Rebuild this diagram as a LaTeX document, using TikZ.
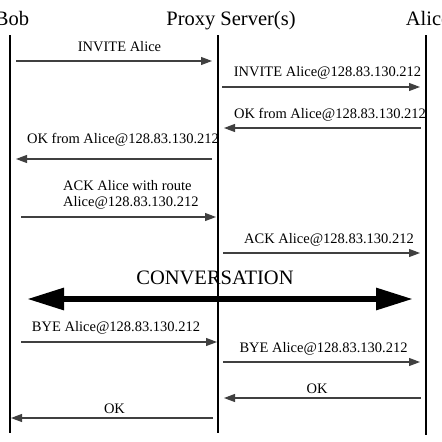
\documentclass[tikz,border=0pt]{standalone}
\usepackage{fontspec}
\setmainfont{Liberation Serif}
\usetikzlibrary{arrows.meta}
\begin{document}
\begin{tikzpicture}[x=1pt,y=-1pt,
  title/.style={font=\fontsize{20.5}{24}\selectfont, anchor=base, inner sep=0pt},
  lbl/.style={font=\fontsize{14.5}{16}\selectfont, anchor=base, inner sep=0pt},
  life/.style={line width=1.8pt, black},
  msg/.style={line width=1.1pt, black!75, -{Triangle[length=11pt,width=8pt]}},
  conv/.style={line width=6pt, black, {Triangle[length=37pt,width=21pt]}-{Triangle[length=37pt,width=21pt]}}]
\useasboundingbox (0,0) rectangle (442,442);
% titles
\node[title] (tbob) at (12,25) {Bob};
\node[title] (tproxy) at (231,25) {Proxy Server(s)};
\node[title] (talice) at (428,25) {Alice};
% lifelines
\coordinate (bobT) at (10,35); \coordinate (bobB) at (10,433);
\coordinate (prT) at (218,35); \coordinate (prB) at (218,433);
\coordinate (alT) at (426,35); \coordinate (alB) at (426,435);
\draw[life] (bobT) -- (bobB);
\draw[life] (prT) -- (prB);
\draw[life] (alT) -- (alB);
% message 1
\coordinate (m1a) at (16,61); \coordinate (m1b) at (212,61);
\draw[msg] (m1a) -- (m1b);
\node[lbl] (l1) at (119.5,51) {INVITE Alice};
% message 2
\coordinate (m2a) at (222,87); \coordinate (m2b) at (420,87);
\draw[msg] (m2a) -- (m2b);
\node[lbl] (l2) at (327.5,76) {INVITE Alice@128.83.130.212};
% message 3
\coordinate (m3a) at (421,128); \coordinate (m3b) at (224,128);
\draw[msg] (m3a) -- (m3b);
\node[lbl] (l3) at (330,118) {OK from Alice@128.83.130.212};
% message 4
\coordinate (m4a) at (212,159); \coordinate (m4b) at (16,159);
\draw[msg] (m4a) -- (m4b);
\node[lbl] (l4) at (123,143) {OK from Alice@128.83.130.212};
% message 5
\coordinate (m5a) at (21,217); \coordinate (m5b) at (216,217);
\draw[msg] (m5a) -- (m5b);
\node[lbl, anchor=base west] (l5a) at (63,190) {ACK Alice with route};
\node[lbl, anchor=base west] (l5b) at (63,206) {Alice@128.83.130.212};
% message 6
\coordinate (m6a) at (223,253); \coordinate (m6b) at (420,253);
\draw[msg] (m6a) -- (m6b);
\node[lbl] (l6) at (329,243) {ACK Alice@128.83.130.212};
% conversation
\coordinate (cva) at (27,299); \coordinate (cvb) at (413,299);
\draw[conv] (cva) -- (cvb);
\node[title] (lconv) at (215,284) {CONVERSATION};
% message 7
\coordinate (m7a) at (21,342); \coordinate (m7b) at (217,342);
\draw[msg] (m7a) -- (m7b);
\node[lbl] (l7) at (116,331) {BYE Alice@128.83.130.212};
% message 8
\coordinate (m8a) at (223,362); \coordinate (m8b) at (420,362);
\draw[msg] (m8a) -- (m8b);
\node[lbl] (l8) at (323.5,352) {BYE Alice@128.83.130.212};
% message 9
\coordinate (m9a) at (421,398); \coordinate (m9b) at (224,398);
\draw[msg] (m9a) -- (m9b);
\node[lbl] (l9) at (317,393) {OK};
% message 10
\coordinate (m10a) at (213,418); \coordinate (m10b) at (11,418);
\draw[msg] (m10a) -- (m10b);
\node[lbl] (l10) at (114.5,413) {OK};
\end{tikzpicture}
\end{document}
